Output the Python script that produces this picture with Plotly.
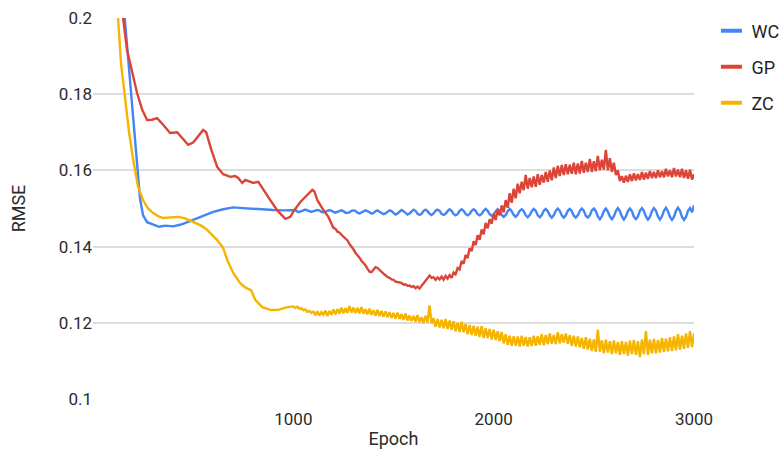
import plotly.graph_objects as go

# ---------------- data ----------------
series_names = ["WC", "GP", "ZC"]
series_colors = ["#4285F4", "#DB4437", "#F4B400"]

# WC : early part (irregular epochs) + regular tail every 10 epochs from 1000
wc_head_epoch = [110, 160, 185, 210, 235, 250, 270, 300, 330, 360, 400, 440, 480, 520, 560, 600, 650, 700, 750, 800, 850, 900, 950]
wc_head_rmse = [0.2300, 0.2000, 0.1840, 0.1680, 0.1525, 0.1482, 0.1464, 0.1458, 0.1452, 0.1455, 0.1453, 0.1458, 0.1466,
                0.1476, 0.1484, 0.1491, 0.1498, 0.1503, 0.1501, 0.1499, 0.1497, 0.1496, 0.1495]
wc_tail_start, wc_tail_step = 1000, 10
wc_tail_rmse = [
    0.1497, 0.1496, 0.1492, 0.1491, 0.1493, 0.1496, 0.1497, 0.1495, 0.1492, 0.1491,
    0.1493, 0.1495, 0.1496, 0.1495, 0.1491, 0.1490, 0.1491, 0.1494, 0.1496, 0.1494,
    0.1490, 0.1489, 0.1491, 0.1494, 0.1495, 0.1493, 0.1489, 0.1489, 0.1490, 0.1494,
    0.1495, 0.1494, 0.1489, 0.1487, 0.1489, 0.1493, 0.1495, 0.1493, 0.1489, 0.1487,
    0.1488, 0.1493, 0.1495, 0.1492, 0.1488, 0.1485, 0.1487, 0.1492, 0.1495, 0.1493,
    0.1487, 0.1484, 0.1487, 0.1493, 0.1496, 0.1493, 0.1487, 0.1484, 0.1487, 0.1493,
    0.1497, 0.1494, 0.1486, 0.1483, 0.1486, 0.1494, 0.1497, 0.1493, 0.1486, 0.1483,
    0.1487, 0.1494, 0.1497, 0.1494, 0.1486, 0.1483, 0.1486, 0.1493, 0.1498, 0.1494,
    0.1486, 0.1482, 0.1485, 0.1494, 0.1498, 0.1494, 0.1486, 0.1482, 0.1486, 0.1494,
    0.1498, 0.1494, 0.1485, 0.1482, 0.1486, 0.1494, 0.1499, 0.1494, 0.1485, 0.1481,
    0.1484, 0.1493, 0.1498, 0.1493, 0.1483, 0.1478, 0.1483, 0.1493, 0.1499, 0.1493,
    0.1483, 0.1478, 0.1484, 0.1494, 0.1498, 0.1493, 0.1482, 0.1477, 0.1483, 0.1493,
    0.1499, 0.1494, 0.1482, 0.1477, 0.1483, 0.1494, 0.1499, 0.1493, 0.1482, 0.1476,
    0.1482, 0.1494, 0.1500, 0.1494, 0.1482, 0.1476, 0.1482, 0.1494, 0.1499, 0.1493,
    0.1481, 0.1476, 0.1482, 0.1494, 0.1500, 0.1494, 0.1481, 0.1476, 0.1482, 0.1495,
    0.1500, 0.1493, 0.1479, 0.1472, 0.1479, 0.1493, 0.1500, 0.1492, 0.1479, 0.1472,
    0.1479, 0.1493, 0.1501, 0.1493, 0.1479, 0.1471, 0.1479, 0.1493, 0.1500, 0.1493,
    0.1478, 0.1472, 0.1479, 0.1494, 0.1501, 0.1493, 0.1479, 0.1471, 0.1478, 0.1493,
    0.1501, 0.1494, 0.1479, 0.1471, 0.1479, 0.1494, 0.1502, 0.1493, 0.1478, 0.1470,
    0.1478, 0.1494, 0.1502, 0.1494, 0.1478, 0.1470, 0.1478, 0.1494, 0.1501, 0.1490,
    0.1508,
]

# GP : early part (irregular epochs) + regular tail every 10 epochs from 1200
gp_head_epoch = [120, 150, 170, 195, 220, 245, 270, 295, 320, 350, 385, 420, 445, 475, 500, 525, 550, 565, 590, 620, 650,
                 685, 710, 725, 745, 760, 780, 800, 825, 855, 885, 920, 960, 985, 1000, 1035, 1068, 1095, 1105, 1120, 1150, 1175]
gp_head_rmse = [0.2400, 0.2000, 0.1916, 0.1860, 0.1803, 0.1760, 0.1732, 0.1733, 0.1737, 0.1720, 0.1698, 0.1700, 0.1685,
                0.1667, 0.1673, 0.1690, 0.1706, 0.1700, 0.1655, 0.1609, 0.1590, 0.1583, 0.1585, 0.1580, 0.1567, 0.1575,
                0.1570, 0.1567, 0.1570, 0.1545, 0.1522, 0.1495, 0.1473, 0.1478, 0.1492, 0.1517, 0.1535, 0.1549, 0.1545,
                0.1522, 0.1496, 0.1478]
gp_tail_start, gp_tail_step = 1200, 10
gp_tail_rmse = [
    0.1449, 0.1447, 0.1439, 0.1437, 0.1431, 0.1426, 0.1420, 0.1416, 0.1407, 0.1401,
    0.1393, 0.1384, 0.1378, 0.1371, 0.1363, 0.1357, 0.1351, 0.1342, 0.1334, 0.1333,
    0.1339, 0.1346, 0.1344, 0.1339, 0.1332, 0.1329, 0.1325, 0.1320, 0.1318, 0.1314,
    0.1313, 0.1308, 0.1307, 0.1305, 0.1305, 0.1300, 0.1301, 0.1297, 0.1298, 0.1294,
    0.1296, 0.1291, 0.1295, 0.1290, 0.1297, 0.1302, 0.1311, 0.1318, 0.1324, 0.1318,
    0.1320, 0.1313, 0.1319, 0.1314, 0.1321, 0.1313, 0.1323, 0.1316, 0.1325, 0.1318,
    0.1332, 0.1327, 0.1344, 0.1340, 0.1362, 0.1355, 0.1378, 0.1370, 0.1396, 0.1388,
    0.1414, 0.1404, 0.1430, 0.1418, 0.1445, 0.1432, 0.1462, 0.1448, 0.1472, 0.1460,
    0.1486, 0.1470, 0.1496, 0.1482, 0.1508, 0.1490, 0.1522, 0.1502, 0.1540, 0.1515,
    0.1552, 0.1527, 0.1565, 0.1540, 0.1570, 0.1548, 0.1588, 0.1552, 0.1580, 0.1556,
    0.1584, 0.1557, 0.1590, 0.1562, 0.1588, 0.1568, 0.1596, 0.1570, 0.1600, 0.1574,
    0.1608, 0.1580, 0.1612, 0.1585, 0.1614, 0.1588, 0.1616, 0.1590, 0.1615, 0.1591,
    0.1620, 0.1590, 0.1618, 0.1592, 0.1625, 0.1594, 0.1620, 0.1596, 0.1630, 0.1596,
    0.1624, 0.1598, 0.1638, 0.1600, 0.1628, 0.1602, 0.1654, 0.1600, 0.1632, 0.1596,
    0.1620, 0.1588, 0.1600, 0.1572, 0.1585, 0.1568, 0.1586, 0.1570, 0.1590, 0.1572,
    0.1592, 0.1574, 0.1590, 0.1575, 0.1596, 0.1576, 0.1594, 0.1578, 0.1598, 0.1580,
    0.1596, 0.1580, 0.1600, 0.1582, 0.1598, 0.1582, 0.1604, 0.1584, 0.1600, 0.1582,
    0.1606, 0.1584, 0.1602, 0.1582, 0.1604, 0.1580, 0.1600, 0.1578, 0.1602, 0.1576,
    0.1590,
]

# ZC : early part (irregular epochs) + regular tail every 10 epochs from 1000
zc_head_epoch = [100, 125, 140, 160, 180, 200, 225, 250, 275, 300, 325, 350, 390, 425, 460, 500, 540, 570, 620, 650, 670,
                 700, 735, 760, 775, 790, 810, 845, 885, 925, 970]
zc_head_rmse = [0.2300, 0.2000, 0.1880, 0.1785, 0.1700, 0.1630, 0.1557, 0.1522, 0.1500, 0.1488, 0.1480, 0.1475, 0.1476,
                0.1478, 0.1474, 0.1465, 0.1455, 0.1444, 0.1417, 0.1396, 0.1365, 0.1331, 0.1304, 0.1293, 0.1289, 0.1285,
                0.1260, 0.1241, 0.1234, 0.1234, 0.1241]
zc_tail_start, zc_tail_step = 1000, 10
zc_tail_rmse = [
    0.1243, 0.1239, 0.1242, 0.1237, 0.1238, 0.1233, 0.1235, 0.1229, 0.1231, 0.1226,
    0.1229, 0.1220, 0.1230, 0.1219, 0.1228, 0.1221, 0.1232, 0.1218, 0.1231, 0.1221,
    0.1235, 0.1222, 0.1236, 0.1224, 0.1240, 0.1225, 0.1238, 0.1226, 0.1244, 0.1227,
    0.1240, 0.1226, 0.1239, 0.1225, 0.1241, 0.1224, 0.1236, 0.1222, 0.1237, 0.1221,
    0.1233, 0.1219, 0.1234, 0.1218, 0.1231, 0.1216, 0.1230, 0.1215, 0.1228, 0.1213,
    0.1226, 0.1211, 0.1227, 0.1210, 0.1223, 0.1208, 0.1224, 0.1206, 0.1219, 0.1205,
    0.1218, 0.1203, 0.1220, 0.1202, 0.1215, 0.1200, 0.1218, 0.1201, 0.1246, 0.1199,
    0.1212, 0.1190, 0.1210, 0.1188, 0.1208, 0.1186, 0.1210, 0.1184, 0.1206, 0.1182,
    0.1204, 0.1178, 0.1200, 0.1176, 0.1203, 0.1175, 0.1197, 0.1170, 0.1194, 0.1168,
    0.1192, 0.1166, 0.1190, 0.1163, 0.1191, 0.1160, 0.1186, 0.1160, 0.1184, 0.1156,
    0.1182, 0.1155, 0.1178, 0.1152, 0.1176, 0.1146, 0.1170, 0.1142, 0.1166, 0.1140,
    0.1165, 0.1140, 0.1164, 0.1138, 0.1166, 0.1140, 0.1163, 0.1138, 0.1162, 0.1139,
    0.1166, 0.1140, 0.1165, 0.1142, 0.1170, 0.1141, 0.1168, 0.1144, 0.1172, 0.1145,
    0.1168, 0.1144, 0.1175, 0.1146, 0.1170, 0.1148, 0.1172, 0.1145, 0.1168, 0.1140,
    0.1166, 0.1138, 0.1164, 0.1136, 0.1160, 0.1132, 0.1162, 0.1130, 0.1158, 0.1126,
    0.1156, 0.1124, 0.1182, 0.1124, 0.1154, 0.1120, 0.1156, 0.1122, 0.1152, 0.1118,
    0.1154, 0.1120, 0.1150, 0.1116, 0.1152, 0.1118, 0.1150, 0.1114, 0.1153, 0.1118,
    0.1155, 0.1116, 0.1152, 0.1110, 0.1156, 0.1118, 0.1178, 0.1116, 0.1156, 0.1120,
    0.1158, 0.1120, 0.1155, 0.1122, 0.1160, 0.1124, 0.1158, 0.1125, 0.1162, 0.1126,
    0.1164, 0.1128, 0.1170, 0.1130, 0.1166, 0.1132, 0.1172, 0.1134, 0.1178, 0.1136,
    0.1172,
]

x_ticks = [1000, 2000, 3000]
y_ticks = [0.1, 0.12, 0.14, 0.16, 0.18, 0.2]
y_tick_labels = ["0.1", "0.12", "0.14", "0.16", "0.18", "0.2"]


def build(head_x, head_y, start, step, tail_y):
    xs = list(head_x) + [start + step * i for i in range(len(tail_y))]
    ys = list(head_y) + list(tail_y)
    return xs, ys


series = [
    build(wc_head_epoch, wc_head_rmse, wc_tail_start, wc_tail_step, wc_tail_rmse),
    build(gp_head_epoch, gp_head_rmse, gp_tail_start, gp_tail_step, gp_tail_rmse),
    build(zc_head_epoch, zc_head_rmse, zc_tail_start, zc_tail_step, zc_tail_rmse),
]

FONT = "Roboto, Arial, sans-serif"
TXT = "#2b2b2b"
fig = go.Figure()

for idx in range(3):
    xs, ys = series[idx]
    fig.add_trace(go.Scatter(
        x=xs, y=ys, mode="lines", name=series_names[idx],
        line=dict(color=series_colors[idx], width=2.4),
        showlegend=False, hoverinfo="skip",
    ))

# legend entries with short dash symbols
for i, name in enumerate(series_names):
    fig.add_trace(go.Scatter(
        x=[None], y=[None], mode="markers", name=name, legendgroup=name,
        marker=dict(symbol="line-ew", size=15, color=series_colors[i],
                    line=dict(color=series_colors[i], width=4)),
    ))

fig.update_layout(
    width=782, height=452,
    margin=dict(l=93, r=88, t=18, b=53, autoexpand=False),
    paper_bgcolor="white", plot_bgcolor="white",
    font=dict(family=FONT, size=17, color=TXT),
    showlegend=True,
    legend=dict(
        x=1.029, y=1.014, xanchor="left", yanchor="top",
        font=dict(family=FONT, size=18, color="#1f1f1f"),
        traceorder="grouped", tracegroupgap=9.5,
        bgcolor="rgba(0,0,0,0)", borderwidth=0,
    ),
    xaxis=dict(
        range=[0, 3000], tickvals=x_ticks, ticktext=[str(v) for v in x_ticks],
        showgrid=False, zeroline=False, showline=False, ticks="",
        ticklabelstandoff=8,
        title=dict(text="Epoch", font=dict(size=18, color=TXT), standoff=4),
        tickfont=dict(size=17, color=TXT),
    ),
    yaxis=dict(
        range=[0.1, 0.2], tickvals=y_ticks, ticktext=y_tick_labels,
        showgrid=True, gridcolor="#dcdcdc", gridwidth=1.5, zeroline=False, showline=False, ticks="",
        title=dict(text="RMSE", font=dict(size=18, color=TXT), standoff=28),
        tickfont=dict(size=17, color=TXT),
    ),
)

fig.write_html("out.html")
